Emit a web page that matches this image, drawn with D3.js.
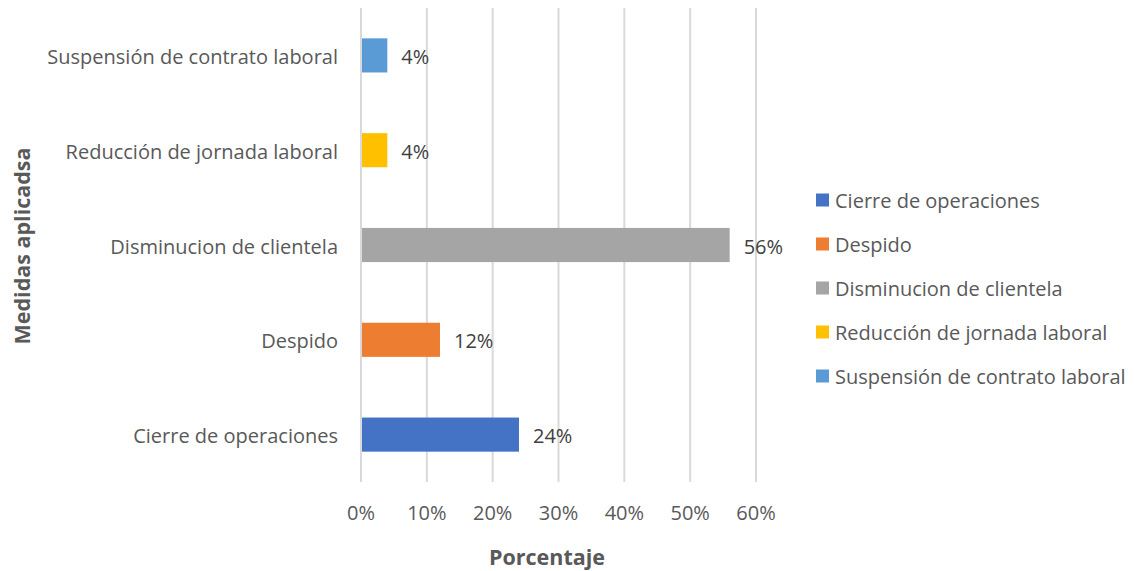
<!DOCTYPE html>
<html><head><meta charset="utf-8">
<script src="https://cdn.jsdelivr.net/npm/d3@7"></script>
<style>body{margin:0;background:#fff}svg{display:block}text{font-family:"Open Sans",Calibri,sans-serif}</style>
</head><body>
<svg id="c" width="1134" height="571"></svg>
<script>
const categories = ["Cierre de operaciones","Despido","Disminucion de clientela","Reducción de jornada laboral","Suspensión de contrato laboral"];
const values = [24,12,56,4,4];
const colors = ["#4472C4","#ED7D31","#A5A5A5","#FFC000","#5B9BD5"];
const xTicks = [0,10,20,30,40,50,60];
const xTitle = "Porcentaje";
const yTitle = "Medidas aplicadsa";

(function(){
const svg = d3.select("#c");
const pL = 361, pR = 756, pT = 8, pB = 482;
const x = d3.scaleLinear().domain([0,60]).range([pL,pR]);
const y = d3.scaleBand().domain(categories.slice().reverse()).range([pT,pB]).paddingInner(0.64).paddingOuter(0.32);

svg.append("g").selectAll("line").data(xTicks).join("line")
  .attr("x1",d=>x(d)).attr("x2",d=>x(d)).attr("y1",pT).attr("y2",pB)
  .attr("stroke","#D9D9D9").attr("stroke-width",2);

svg.append("g").selectAll("rect").data(categories).join("rect")
  .attr("x",x(0)+1).attr("y",d=>y(d)).attr("height",y.bandwidth())
  .attr("width",(d,i)=>x(values[i])-x(0)-1).attr("fill",(d,i)=>colors[i]);

svg.append("g").selectAll("text").data(categories).join("text")
  .attr("x",(d,i)=>x(values[i])+14).attr("y",d=>y(d)+y.bandwidth()/2+1.5).attr("dy","0.35em")
  .attr("font-size",20).attr("fill","#404040").text((d,i)=>values[i]+"%");

svg.append("g").selectAll("text").data(categories).join("text")
  .attr("x",338).attr("y",d=>y(d)+y.bandwidth()/2+1.5).attr("dy","0.35em").attr("text-anchor","end")
  .attr("font-size",20).attr("fill","#595959").text(d=>d);

svg.append("g").selectAll("text").data(xTicks).join("text")
  .attr("x",d=>x(d)).attr("y",513).attr("dy","0.35em").attr("text-anchor","middle")
  .attr("font-size",20).attr("fill","#595959").text(d=>d+"%");

svg.append("text").attr("x",547).attr("y",557).attr("dy","0.35em").attr("text-anchor","middle")
  .attr("font-size",21.5).attr("font-weight","bold").attr("fill","#595959").text(xTitle);

svg.append("text").attr("transform","translate(22,246) rotate(-90)").attr("dy","0.35em").attr("text-anchor","middle")
  .attr("font-size",21.5).attr("font-weight","bold").attr("fill","#595959").text(yTitle);

const lg = svg.append("g").selectAll("g").data(categories).join("g")
  .attr("transform",(d,i)=>`translate(816,${200+i*44})`);
lg.append("rect").attr("x",0).attr("y",-6.5).attr("width",13).attr("height",13).attr("fill",(d,i)=>colors[i]);
lg.append("text").attr("x",19).attr("y",1).attr("dy","0.35em").attr("font-size",20).attr("fill","#595959").text(d=>d);
})();
</script>
</body></html>
